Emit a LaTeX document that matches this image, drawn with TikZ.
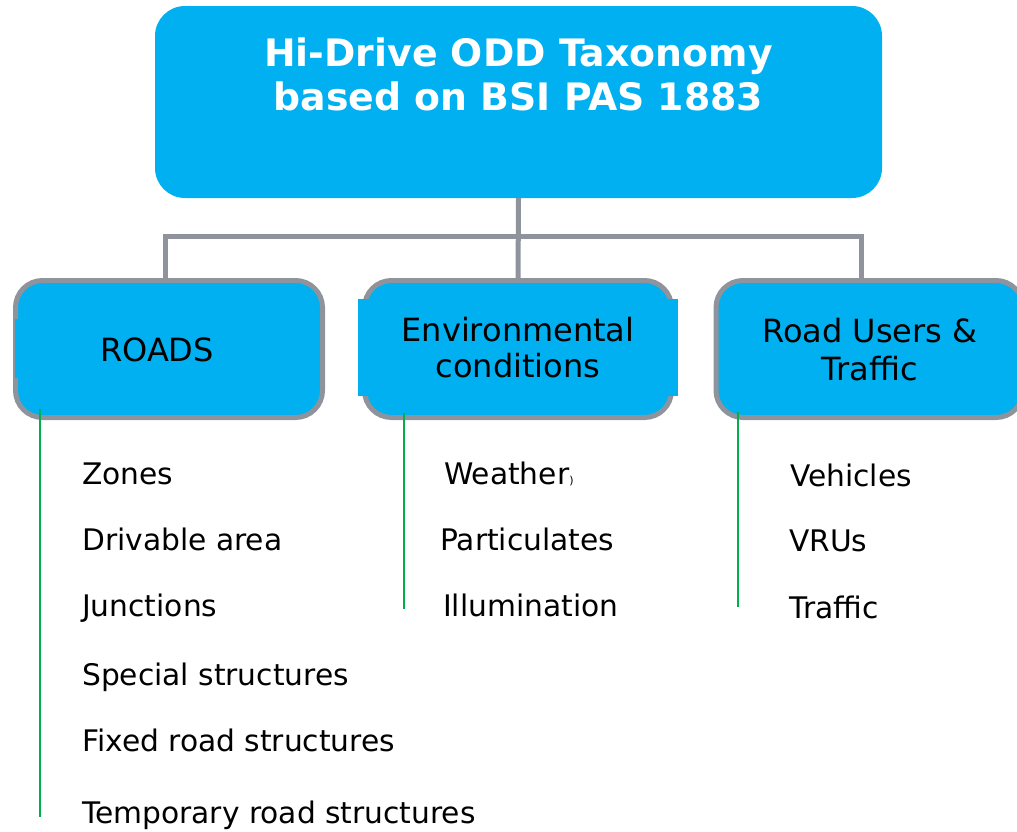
\documentclass[tikz,border=0pt]{standalone}
\usepackage{fontspec}
\setmainfont{DejaVu Sans}
\definecolor{cyanfill}{HTML}{00B0F0}
\definecolor{bordergray}{HTML}{8F949C}
\definecolor{leafgreen}{HTML}{00B050}
\begin{document}
\begin{tikzpicture}[x=1pt,y=-1pt,
  topbox/.style={fill=cyanfill,draw=none,rounded corners=30pt,minimum width=727pt,minimum height=192pt,inner sep=0pt},
  catbox/.style={fill=cyanfill,draw=bordergray,line width=5pt,rounded corners=27pt,minimum width=307pt,minimum height=137pt,inner sep=0pt},
  conn/.style={draw=bordergray,line width=5pt},
  leaf/.style={draw=leafgreen,line width=2pt},
  titletxt/.style={text=white,font=\fontsize{37.8}{44}\selectfont\bfseries,inner sep=0pt,anchor=base},
  cattxt/.style={text=black,font=\fontsize{32}{38}\selectfont,inner sep=0pt,anchor=base},
  itemtxt/.style={text=black,font=\fontsize{29.7}{35}\selectfont,inner sep=0pt,anchor=base west}]
\useasboundingbox (0,0) rectangle (1017,831);
% nodes
\node[topbox] (top) at (518.5,102) {};
\coordinate (hbar) at (518,236);
% connectors (under boxes)
\draw[conn] (top.south) -- (518,281) coordinate (envtop);
\draw[conn] (165.5,281) coordinate (roadstop) |- (hbar) -| (861,281) coordinate (rutop);
\node[catbox] (roads) at (169,349) {};
\fill[cyanfill] (15,319) rectangle (300,378);
\node[catbox] (env) at (518,349) {};
\fill[cyanfill] (358.3,299) rectangle (678.3,396);
\node[catbox] (ru) at (869.5,349) {};
% title
\node[titletxt] (t1) at (518.5,66) {Hi-Drive ODD Taxonomy};
\node[titletxt] (t2) at (518.5,110) {based on BSI PAS 1883};
% category labels
\node[cattxt] (roadsl) at (157,361.7) {ROADS};
\node[cattxt] (envl1) at (518,341) {Environmental};
\node[cattxt] (envl2) at (518,377) {conditions};
\node[cattxt] (rul1) at (870,342.7) {Road Users \&};
\node[cattxt] (rul2) at (870,380) {Traffic};
% green leaf lines
\draw[leaf] ([shift={(27,-11)}]roads.south west) -- ++(0,408) coordinate (roadsend);
\draw[leaf] ([shift={(42,-7)}]env.south west) -- ++(0,196) coordinate (envend);
\draw[leaf] ([shift={(24.2,-8)}]ru.south west) -- ++(0,195) coordinate (ruend);
% items
\node[itemtxt] (i1) at (82,484) {Zones};
\node[itemtxt] (i2) at (82,550) {Drivable area};
\node[itemtxt] (i3) at (82,616.7) {Junctions};
\node[itemtxt] (i4) at (82,685.7) {Special structures};
\node[itemtxt] (i5) at (82,751) {Fixed road structures};
\node[itemtxt] (i6) at (82,823) {Temporary road structures};
\node[itemtxt] (e1) at (444,484.3) {Weather{\fontsize{11}{11}\selectfont )}};
\node[itemtxt] (e2) at (440,550) {Particulates};
\node[itemtxt] (e3) at (443,616.7) {Illumination};
\node[itemtxt] (r1) at (790,486) {Vehicles};
\node[itemtxt] (r2) at (789,551.7) {VRUs};
\node[itemtxt] (r3) at (789,618.3) {Traffic};
\end{tikzpicture}
\end{document}
